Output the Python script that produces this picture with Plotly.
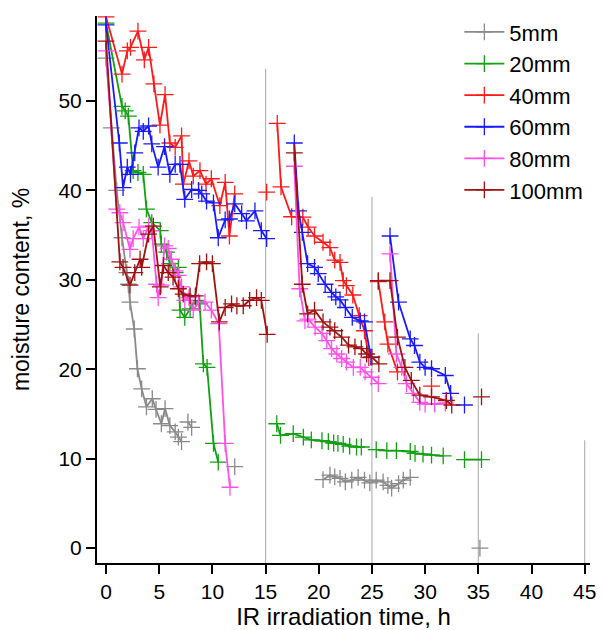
import plotly.graph_objects as go

# ---------------- data (None = gap between measurement runs) ----------------
names = ["5mm", "20mm", "40mm", "60mm", "80mm", "100mm"]
colors = ["#8a8a8a", "#12a012", "#ff1a1a", "#1a1aff", "#ff50ea", "#a01212"]

x_5mm = [0, 0.5, 1.0, 1.5, 1.95, 2.1, 2.25, 2.65, 2.95, 3.35, 3.8, 4.35, 4.7, 5.2, 5.55, 6.0, 6.5, 6.8, 7.1,
         None, 7.7, 8.05, None, 12.1, None,
         20.4, 21.05, 21.5, 22.0, 22.5, 23.1, 23.7, 24.3, 24.8, 25.4, 26.05, 26.5, 26.85, 27.5, 27.95, 28.6,
         None, 35.15]
y_5mm = [54.8, 47.0, 40.0, 34.7, 30.8, 29.5, 27.5, 24.5, 20.05, 17.8, 15.8, 16.7, 15.5, 13.9, 15.6, 13.7, 13.0, 12.4, 11.9,
         None, 14.1, 13.5, None, 9.1, None,
         7.65, 8.15, 7.96, 7.8, 7.4, 7.6, 7.9, 7.6, 7.3, 7.6, 7.4, 7.0, 6.7, 7.2, 7.6, 7.9,
         None, 0.0]

x_20mm = [0, 1.5, 1.8, 2.1, 2.55, 3.0, 3.5, 3.8, 4.3, 5.1, 5.2, 5.7, 6.0, 6.5, 6.8, 6.95, 7.4, 7.9, 8.4, 8.8,
          9.15, 9.5, 10.1, 10.55, None,
          16.05, 16.4, 17.6, 18.55, 19.3, 20.3, 20.9, 21.4, 21.8, 22.3, 22.9, 23.55, 24.0, None,
          25.4, 26.4, 27.3, 28.6, 29.05, 29.8, 30.6, 31.7, None, 33.7, 35.3]
y_20mm = [58.7, 49.4, 48.9, 48.3, 42.2, 42.0, 41.8, 37.9, 36.4, 35.5, 34.0, 33.1, 31.8, 30.8, 31.4, 26.6, 25.8, 26.75, 27.7, 27.3,
          20.6, 20.2, 11.7, 9.6, None,
          13.9, 12.6, 12.8, 12.4, 12.1, 12.0, 11.9, 11.75, 11.7, 11.6, 11.4, 11.3, 11.3, None,
          11.0, 10.9, 10.9, 10.8, 10.6, 10.5, 10.4, 10.3, None, 9.9, 9.9]

x_40mm = [0, 1.5, 2.0, 2.3, 3.0, 3.6, 4.0, 4.5, 5.07, 5.55, 6.0, 6.5, 7.1, 7.27, 7.8, 8.2, 8.83, 9.4, 9.9,
          10.7, 11.2, 11.6, 12.1, None, 15.1, None,
          16.1, 16.45, 17.45, 18.5, 19.0, 19.6, 20.4, 21.05, 21.5, 22.0, 22.3, 22.6, 23.2, 23.8, 24.3, 24.7, None,
          25.6, 26.2, 26.5, 27.4, None, 30.6]
y_40mm = [59.4, 53.0, 55.6, 56.0, 57.8, 54.6, 56.0, 51.9, 47.3, 50.7, 45.3, 44.8, 46.1, 40.7, 43.3, 41.6, 42.2, 40.7, 41.3,
          38.3, 40.9, 34.9, 39.6, None, 39.8, None,
          47.5, 40.4, 37.05, 37.0, 35.9, 34.9, 34.2, 33.6, 32.2, 31.95, 29.9, 29.35, 28.3, 26.0, 24.3, 21.3, None,
          29.8, 25.3, 22.8, 19.7, None, 18.1]

x_60mm = [0, 1.25, 1.6, 2.0, 2.3, 2.7, 3.1, 3.5, 4.0, 4.3, 4.9, 5.5, 6.0, 6.5, 6.95, 7.4, 8.05, 8.7, 9.0, 9.45,
          10.1, 10.55, 11.2, 11.6, 12.1, 12.75, 13.2, 14.0, 14.6, 15.1, None,
          17.7, 18.1, 18.45, 18.95, 19.6, 19.95, 20.6, 21.2, 21.6, 22.0, 22.5, 23.15, 23.9, 24.3, 24.9, None,
          26.7, 27.5, 28.6, 29.0, 29.5, 30.0, 30.6, 31.9, 32.4, None, 33.7]
y_60mm = [58.5, 45.3, 40.3, 42.6, 41.8, 44.2, 47.0, 46.6, 47.2, 45.2, 42.6, 44.9, 41.8, 42.9, 42.9, 39.0, 40.1, 40.0, 39.6, 38.8,
          38.6, 34.7, 36.7, 36.8, 38.5, 37.4, 36.6, 37.7, 35.5, 34.6, None,
          45.3, 37.7, 35.3, 31.8, 31.4, 30.7, 29.5, 28.6, 28.1, 27.75, 26.9, 25.8, 25.4, 25.3, 21.35, None,
          34.9, 27.5, 23.4, 22.65, 20.8, 20.2, 20.05, 19.3, 17.3, None, 16.0]

x_80mm = [0, 1.0, 1.3, 1.6, 2.25, 2.55, 3.1, 3.5, 4.0, 4.3, 4.75, 4.9, 5.2, 5.5, 5.85, 6.15, 6.5, 6.8, 7.1, 7.4,
          7.8, 8.2, 8.7, 9.3, 9.9, 10.6, 11.2, 11.65, None,
          17.7, 18.2, 18.7, 19.0, 19.65, 20.3, 20.75, 21.2, 21.7, 22.15, 22.6, 23.25, 23.9, 24.35, 24.95, 25.6, None,
          26.7, 27.3, 27.8, 28.25, 28.9, 29.5, 30.0, 30.9, 31.9]
y_80mm = [55.6, 37.9, 37.5, 36.4, 33.4, 34.6, 35.9, 34.6, 36.0, 35.5, 29.5, 28.0, 29.4, 33.8, 33.5, 32.3, 31.0, 30.5, 29.2, 27.7,
          28.0, 26.6, 27.5, 27.5, 26.6, 25.1, 11.7, 6.8, None,
          42.7, 29.0, 25.4, 25.6, 24.7, 24.0, 23.2, 22.3, 21.7, 21.2, 20.8, 20.2, 20.2, 19.7, 19.1, 18.4, None,
          32.9, 21.7, 20.2, 18.4, 17.3, 16.3, 16.1, 16.1, 16.2]

x_100mm = [0, 1.3, 1.6, 2.25, 2.7, 3.2, 3.35, 4.0, 4.45, 5.1, 5.4, 5.85, 6.3, 6.8, 7.25, 7.9, 8.4, 8.8, 9.45, 10.0,
           10.65, 11.2, 11.8, 12.3, 12.9, 13.5, 14.15, 14.6, 15.15, None,
           17.7, 18.45, 18.95, 19.6, 20.4, 21.05, 21.5, 22.15, 22.8, 23.4, 24.0, 24.5, 25.0, 25.65, None,
           25.6, 26.7, 27.4, 28.1, 28.7, 29.5, 30.6, 32.0, 32.5, None, 35.3]
y_100mm = [56.7, 32.0, 31.4, 29.4, 30.8, 32.3, 31.4, 35.1, 36.0, 29.2, 31.6, 30.8, 30.3, 29.0, 28.4, 28.2, 28.2, 31.8, 32.0, 31.8,
           25.3, 26.9, 27.3, 27.1, 27.1, 27.7, 28.0, 27.7, 23.9, None,
           44.2, 29.5, 26.2, 26.6, 25.3, 24.7, 24.3, 23.6, 22.7, 22.5, 22.3, 21.7, 21.35, 20.6, None,
           29.9, 29.9, 23.6, 20.2, 18.75, 17.1, 16.9, 16.5, 16.0, None, 16.9]

series_x = [x_5mm, x_20mm, x_40mm, x_60mm, x_80mm, x_100mm]
series_y = [y_5mm, y_20mm, y_40mm, y_60mm, y_80mm, y_100mm]

# vertical reference lines (time marks)
vline_x = [15, 25, 35, 45]
vline_top = [53.6, 39.3, 24.0, 12.05]
vline_bottom = -1.67

x_ticks = [0, 5, 10, 15, 20, 25, 30, 35, 40, 45]
y_ticks = [0, 10, 20, 30, 40, 50]

# ---------------- figure ----------------
fig = go.Figure()

vx, vy = [], []
for xv, top in zip(vline_x, vline_top):
    vx += [xv, xv, None]
    vy += [vline_bottom, top, None]
fig.add_trace(go.Scatter(x=vx, y=vy, mode="lines", line=dict(color="#b4b4b4", width=1.2),
                         showlegend=False, hoverinfo="skip"))

for name, col, xs, ys in zip(names, colors, series_x, series_y):
    fig.add_trace(go.Scatter(
        x=xs, y=ys, name=name, mode="lines+markers", connectgaps=False,
        line=dict(color=col, width=1.8),
        marker=dict(symbol="cross-thin", size=12, line=dict(color=col, width=1.3), color=col),
    ))

font_family = "Liberation Sans, Arial, sans-serif"
fig.update_layout(
    width=603, height=630,
    margin=dict(l=97, r=13, t=15, b=67),
    paper_bgcolor="white", plot_bgcolor="white",
    font=dict(family=font_family, size=21, color="black"),
    showlegend=True,
    legend=dict(x=0.735, y=1.007, xanchor="left", yanchor="top", bgcolor="rgba(0,0,0,0)",
                font=dict(size=22), tracegroupgap=0, itemwidth=40),
    xaxis=dict(range=[-0.85, 45.5], tickvals=x_ticks, ticktext=[str(v) for v in x_ticks],
               automargin=False,
               showgrid=False, zeroline=False, showline=True, linecolor="black", linewidth=2,
               ticks="outside", ticklen=9, tickwidth=2, tickcolor="black",
               title=dict(text="IR irradiation time, h", font=dict(size=24), standoff=2)),
    yaxis=dict(range=[-1.67, 59.5], tickvals=y_ticks, ticktext=[str(v) for v in y_ticks],
               automargin=False,
               showgrid=False, zeroline=False, showline=True, linecolor="black", linewidth=2,
               ticks="outside", ticklen=9, tickwidth=2, tickcolor="black",
               title=dict(text="moisture content, %", font=dict(size=23), standoff=22)),
)

fig.write_html("out.html")
